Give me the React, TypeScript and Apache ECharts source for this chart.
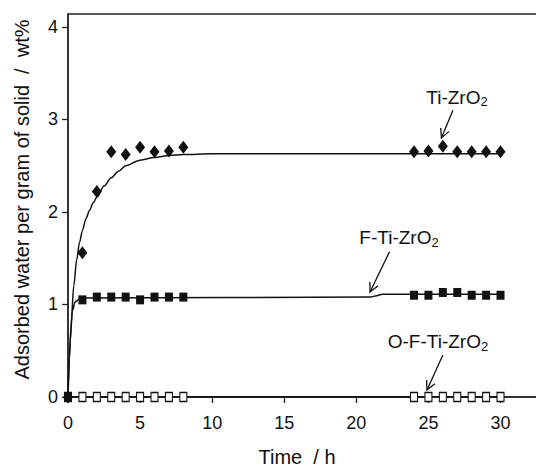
import { useEffect, useRef } from "react";
import * as echarts from "echarts";

// Measured data (time in h, adsorbed water in wt%)
const times = [0, 1, 2, 3, 4, 5, 6, 7, 8, 24, 25, 26, 27, 28, 29, 30];
const tiZrO2 = [0, 1.56, 2.22, 2.65, 2.62, 2.7, 2.65, 2.66, 2.7, 2.65, 2.66, 2.71, 2.65, 2.65, 2.65, 2.65];
const fTiZrO2 = [0, 1.05, 1.08, 1.08, 1.08, 1.05, 1.08, 1.08, 1.08, 1.1, 1.1, 1.13, 1.13, 1.1, 1.1, 1.1];
const oFTiZrO2 = [0, 0, 0, 0, 0, 0, 0, 0, 0, 0, 0, 0, 0, 0, 0, 0];

// Fitted curves
const tiFitTimes = [0, 0.1, 0.2, 0.4, 0.6, 0.8, 1, 1.25, 1.5, 1.75, 2, 2.5, 3, 3.5, 4, 5, 6, 7, 8, 10, 30];
const tiFitValues = [0, 0.42, 0.75, 1.2, 1.48, 1.67, 1.8, 1.93, 2.02, 2.1, 2.16, 2.28, 2.37, 2.44, 2.5, 2.56, 2.59, 2.61, 2.62, 2.63, 2.63];
const fFitTimes = [0, 0.15, 0.3, 0.5, 0.8, 1.2, 21, 21.4, 21.8, 30];
const fFitValues = [0, 0.6, 0.93, 1.03, 1.06, 1.07, 1.08, 1.095, 1.11, 1.11];
const oFitTimes = [0, 30];
const oFitValues = [0, 0];

const xTicks = [0, 5, 10, 15, 20, 25, 30];
const yTicks = [0, 1, 2, 3, 4];

// Annotations: label centre, arrow tail, arrow tip (data coordinates)
const annoTexts = ["Ti-ZrO{s|2}", "F-Ti-ZrO{s|2}", "O-F-Ti-ZrO{s|2}"];
const annoLabelAt = [[26.98, 3.24], [22.96, 1.72], [25.66, 0.595]];
const annoTail = [[26.7, 3.1], [22.3, 1.57], [26.0, 0.454]];
const annoTip = [[25.9, 2.8], [20.95, 1.135], [24.9, 0.076]];

const FONT = "'Liberation Sans', Arial, Helvetica, sans-serif";
const INK = "#111";

export default function App() {
  const ref = useRef<HTMLDivElement>(null);
  useEffect(() => {
    const el = ref.current;
    if (!el) return;
    const chart = echarts.init(el, null, { renderer: "svg" });
    const pairs = (xs: number[], ys: number[]) => xs.map((x, i) => [x, ys[i]]);
    const intFmt = (v: number) => (Math.abs(v - Math.round(v)) < 1e-9 ? String(Math.round(v)) : "");

    chart.setOption({
      animation: false,
      backgroundColor: "#fff",
      textStyle: { fontFamily: FONT },
      grid: {
        left: 68,
        right: -2,
        top: 14,
        bottom: 70,
        containLabel: false,
        outerBoundsMode: "none",
        show: true,
        borderColor: "#222",
        borderWidth: 1.3,
        backgroundColor: "transparent",
      },
      xAxis: {
        type: "value",
        min: 0,
        max: 32.6,
        interval: 5,
        name: "Time  / h",
        nameLocation: "middle",
        nameGap: 50,
        nameTextStyle: { fontSize: 20, color: INK, fontFamily: FONT, padding: [0, 12, 0, 0] },
        axisLine: { show: true, onZero: false, lineStyle: { color: "#222", width: 1.5 } },
        axisTick: { show: true, inside: false, length: 6, customValues: xTicks, lineStyle: { color: "#222", width: 1.3 } },
        axisLabel: { customValues: xTicks, fontSize: 18, color: INK, margin: 17, fontFamily: FONT, formatter: intFmt },
        splitLine: { show: false },
      },
      yAxis: {
        type: "value",
        min: 0,
        max: 4.14,
        interval: 1,
        name: "Adsorbed water per gram of solid  /  wt%",
        nameLocation: "middle",
        nameGap: 36,
        nameTextStyle: { fontSize: 20, color: INK, fontFamily: FONT, padding: [0, 0, 0, 12] },
        axisLine: { show: true, onZero: false, lineStyle: { color: "#222", width: 1.5 } },
        axisTick: { show: true, inside: false, length: 6, customValues: yTicks, lineStyle: { color: "#222", width: 1.3 } },
        axisLabel: { customValues: yTicks, fontSize: 18, color: INK, margin: 10, fontFamily: FONT, formatter: intFmt },
        splitLine: { show: false },
      },
      series: [
        {
          type: "line",
          data: pairs(tiFitTimes, tiFitValues),
          symbol: "none",
          smooth: 0.3,
          smoothMonotone: "x",
          lineStyle: { color: INK, width: 1.5 },
          silent: true,
          z: 2,
        },
        {
          type: "line",
          data: pairs(fFitTimes, fFitValues),
          symbol: "none",
          smooth: 0.3,
          smoothMonotone: "x",
          lineStyle: { color: INK, width: 1.5 },
          silent: true,
          z: 2,
        },
        {
          type: "line",
          data: pairs(oFitTimes, oFitValues),
          symbol: "none",
          lineStyle: { color: INK, width: 1.5 },
          silent: true,
          z: 2,
        },
        {
          type: "scatter",
          data: pairs(times, oFTiZrO2),
          symbol: "rect",
          symbolSize: [7, 9],
          itemStyle: { color: "#fff", borderColor: INK, borderWidth: 1.2, opacity: 1 },
          silent: true,
          z: 3,
        },
        {
          type: "scatter",
          data: pairs(times, fTiZrO2),
          symbol: "rect",
          symbolSize: [8, 9],
          itemStyle: { color: INK, opacity: 1 },
          silent: true,
          z: 4,
        },
        {
          type: "scatter",
          data: pairs(times, tiZrO2),
          symbol: "diamond",
          symbolSize: [10, 13],
          itemStyle: { color: INK, opacity: 1 },
          silent: true,
          z: 5,
        },
      ],
    });

    const px = (p: number[]) => chart.convertToPixel({ gridIndex: 0 }, p) as number[];
    const elements: any[] = [];
    annoTexts.forEach((txt, i) => {
      const c = px(annoLabelAt[i]);
      const a = px(annoTail[i]);
      const b = px(annoTip[i]);
      const dx = b[0] - a[0];
      const dy = b[1] - a[1];
      const len = Math.sqrt(dx * dx + dy * dy) || 1;
      const ux = dx / len;
      const uy = dy / len;
      const hl = 9;
      const hw = 4.5;
      const h1 = [b[0] - ux * hl - uy * hw, b[1] - uy * hl + ux * hw];
      const h2 = [b[0] - ux * hl + uy * hw, b[1] - uy * hl - ux * hw];
      elements.push({
        type: "text",
        x: c[0],
        y: c[1],
        silent: true,
        style: {
          text: txt,
          fontSize: 19,
          lineHeight: 22,
          fontFamily: FONT,
          fill: INK,
          align: "center",
          verticalAlign: "middle",
          rich: { s: { fontSize: 13, lineHeight: 13, verticalAlign: "bottom", fontFamily: FONT, fill: INK, padding: [3, 0, 0, 0] } },
        },
      });
      elements.push({
        type: "line",
        silent: true,
        shape: { x1: a[0], y1: a[1], x2: b[0], y2: b[1] },
        style: { stroke: INK, lineWidth: 1.3 },
      });
      elements.push({
        type: "polyline",
        silent: true,
        shape: { points: [h1, b, h2] },
        style: { stroke: INK, lineWidth: 1.3, fill: null },
      });
    });
    chart.setOption({ graphic: elements });

    return () => chart.dispose();
  }, []);

  return <div ref={ref} style={{ position: "absolute", left: 0, top: 0, width: 536, height: 467 }} />;
}
